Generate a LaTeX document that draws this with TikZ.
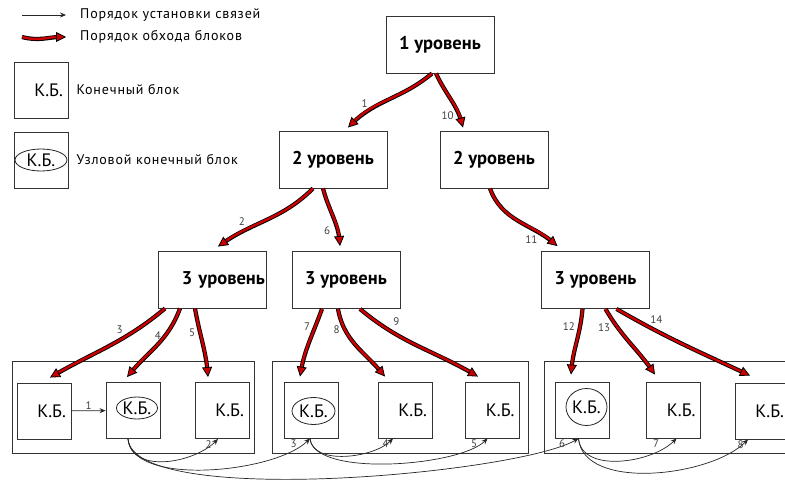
\documentclass[tikz,border=0pt]{standalone}
\usepackage{fontspec}
\setmainfont{PT Sans}
\newfontfamily\legendfont[LetterSpace=6]{PT Sans}
\usetikzlibrary{arrows.meta,positioning,shapes.geometric}

\definecolor{walkred}{RGB}{204,0,0}

\tikzset{
  lvlbox/.style={draw=black!80, line width=0.9pt, minimum width=108pt, minimum height=57pt,
    inner sep=0pt, font=\fontsize{18.5}{22}\selectfont\bfseries},
  kbbox/.style={draw=black!80, line width=0.9pt, minimum width=54pt, minimum height=56pt,
    text width=44pt, align=right, inner xsep=5pt, inner ysep=0pt, font=\fontsize{18}{21}\selectfont},
  hubbox/.style={draw=black!80, line width=0.9pt, minimum width=54pt, minimum height=56pt, inner sep=0pt},
  hubell/.style={draw=black!85, ellipse, line width=0.8pt, inner sep=-1pt, font=\fontsize{18}{21}\selectfont},
  groupbox/.style={draw=black!80, line width=0.9pt, inner sep=0pt},
  walk/.style={preaction={draw=black, line width=4.2pt, shorten >=6pt, arrows=-},
    draw=walkred, line width=2.4pt,
    -{Triangle[length=10pt,width=10pt,color=black,fill=walkred,line width=0.8pt]}},
  link/.style={draw=black!85, line width=0.7pt, -{Stealth[length=6pt,width=5pt,inset=2pt]}},
  num/.style={font=\fontsize{11}{13}\selectfont, text=black!75, inner sep=1pt},
  legend/.style={font=\legendfont\fontsize{14}{16}\selectfont, anchor=west, inner sep=0pt},
}

\begin{document}
\begin{tikzpicture}[x=1pt, y=1pt]
  \useasboundingbox (0,0) rectangle (785,-488);

  % legend
  \coordinate (la1) at (22,-15);
  \coordinate (la2) at (66,-15);
  \draw[link] (la1) -- (la2);
  \node[legend, right=14pt of la2] (lt1) {Порядок установки связей};
  \coordinate (lw1) at (22,-37);
  \coordinate (lw2) at (66,-37);
  \draw[walk] (lw1) to[out=-15, in=180] (lw2);
  \node[legend, right=14pt of lw2] (lt2) {Порядок обхода блоков};

  \node[kbbox] (lb1) at (41,-90) {К.Б.};
  \node[legend, right=8pt of lb1] (lt3) {Конечный блок};
  \node[hubbox] (lb2) at (41,-160) {};
  \node[hubell, minimum width=52pt, minimum height=22pt] (lb2e) at (41,-160) {К.Б.};
  \node[legend, right=8pt of lb2] (lt4) {Узловой конечный блок};

  % tree levels
  \node[lvlbox] (lv1) at (440,-44.5) {1 уровень};
  \node[lvlbox] (lv2a) at (333,-159.5) {2 уровень};
  \node[lvlbox] (lv2b) at (494,-159.5) {2 уровень};
  \node[lvlbox, text width=106pt, align=right] (lv3a) at (212,-279.5) {3 уровень};
  \node[lvlbox] (lv3b) at (346,-280) {3 уровень};
  \node[lvlbox] (lv3c) at (595.5,-280) {3 уровень};

  % groups of end blocks
  \node[groupbox, minimum width=242pt, minimum height=92pt] (g1) at (133,-407) {};
  \node[groupbox, minimum width=256pt, minimum height=92pt] (g2) at (400,-407) {};
  \node[groupbox, minimum width=290pt, minimum height=92pt] (g3) at (689,-407) {};

  \node[kbbox] (kb1) at (44,-411) {К.Б.};
  \node[hubbox] (kb2) at (133,-410.5) {};
  \node[hubell, minimum width=41pt, minimum height=22pt] (kb2e) at (137,-408) {К.Б.};
  \node[kbbox] (kb3) at (222,-410.5) {К.Б.};
  \node[hubbox] (kb4) at (311,-410) {};
  \node[hubell, minimum width=43pt, minimum height=27pt] (kb4e) at (313.5,-411) {К.Б.};
  \node[kbbox] (kb5) at (405,-410) {К.Б.};
  \node[kbbox] (kb6) at (492.5,-410) {К.Б.};
  \node[hubbox] (kb7) at (582.5,-410) {};
  \node[hubell, minimum width=41pt, minimum height=37pt] (kb7e) at (586.5,-407) {К.Б.};
  \node[kbbox] (kb8) at (673.5,-410) {К.Б.};
  \node[kbbox] (kb9) at (762,-411) {К.Б.};

  % traversal order
  \draw[walk] ([xshift=-8pt]lv1.south) to[out=-140, in=45]
    node[num, pos=0.6, left=11pt] (o1) {1} ([xshift=15pt, yshift=3pt]lv2a.north);
  \draw[walk] ([xshift=-4pt]lv1.south) to[out=-65, in=105]
    node[num, pos=0.8, left=3pt] (o10) {10} ([xshift=-31pt, yshift=3pt]lv2b.north);
  \draw[walk] ([xshift=-20pt]lv2a.south) to[out=-135, in=35]
    node[num, pos=0.7, above left=2pt] (o2) {2} ([xshift=6pt, yshift=4pt]lv3a.north);
  \draw[walk] ([xshift=-10pt]lv2a.south) to[out=-75, in=95]
    node[num, pos=0.75, left=5pt] (o6) {6} ([xshift=-6pt, yshift=5pt]lv3b.north);
  \draw[walk] ([xshift=-4pt]lv2b.south) to[out=-70, in=140]
    node[num, pos=0.9, left=10pt] (o11) {11} ([xshift=-38pt, yshift=5pt]lv3c.north);

  \draw[walk] ([xshift=-47pt]lv3a.south) to[out=-140, in=30]
    node[num, pos=0.35, above left=1pt] (o3) {3} ([xshift=6pt, yshift=5pt]kb1.north);
  \draw[walk] ([xshift=-32pt]lv3a.south) to[out=-110, in=50]
    node[num, pos=0.35, left=2pt] (o4) {4} ([xshift=-6pt, yshift=5pt]kb2.north);
  \draw[walk] ([xshift=-17pt]lv3a.south) to[out=-80, in=95]
    node[num, pos=0.35, left=3pt] (o5) {5} ([xshift=-14pt, yshift=5pt]kb3.north);
  \draw[walk] ([xshift=-24pt]lv3b.south) to[out=-110, in=80]
    node[num, pos=0.25, left=3pt] (o7) {7} ([xshift=-11pt, yshift=5pt]kb4.north);
  \draw[walk] ([xshift=-8pt]lv3b.south) to[out=-80, in=130]
    node[num, pos=0.25, left=3pt] (o8) {8} ([xshift=-20pt, yshift=5pt]kb5.north);
  \draw[walk] ([xshift=14pt]lv3b.south) to[out=-40, in=150]
    node[num, pos=0.25, above right=3pt] (o9) {9} ([xshift=-14.5pt, yshift=5pt]kb6.north);
  \draw[walk] ([xshift=-13pt]lv3c.south) to[out=-95, in=85]
    node[num, pos=0.25, left=3pt] (o12) {12} ([xshift=-11.5pt, yshift=7pt]kb7.north);
  \draw[walk] ([xshift=10pt]lv3c.south) to[out=-60, in=125]
    node[num, pos=0.25, left=5pt] (o13) {13} ([xshift=-18.5pt, yshift=7pt]kb8.north);
  \draw[walk] ([xshift=21pt]lv3c.south) to[out=-30, in=155]
    node[num, pos=0.22, above right=1pt] (o14) {14} ([xshift=-12pt, yshift=7pt]kb9.north);

  % order of links between end blocks
  \draw[link] (kb1) -- node[num, above] (c1) {1} (kb2);
  \draw[link] ([xshift=-5pt]kb2.south) to[out=-85, in=-135, looseness=1]
    node[num, at end, anchor=north east, xshift=-5pt] (c2) {2} ([xshift=-4pt]kb3.south);
  \draw[link] ([xshift=-5pt]kb2.south) to[out=-85, in=-135, looseness=0.68]
    node[num, at end, anchor=north east, xshift=-12pt] (c3) {3} ([xshift=-1pt]kb4.south);
  \draw[link] ([xshift=-5pt]kb2.south) to[out=-85, in=-150, looseness=0.4]
    node[num, at end, anchor=north east, xshift=-12pt] (c6) {6} ([xshift=-4pt]kb7.south);
  \draw[link] ([xshift=-1pt]kb4.south) to[out=-85, in=-135, looseness=0.85]
    node[num, at end, anchor=north east, xshift=-3pt] (c4) {4} ([xshift=-12pt]kb5.south);
  \draw[link] ([xshift=-1pt]kb4.south) to[out=-85, in=-135, looseness=0.57]
    node[num, at end, anchor=north east, xshift=-9pt] (c5) {5} ([xshift=-5pt]kb6.south);
  \draw[link] ([xshift=-4pt]kb7.south) to[out=-85, in=-135, looseness=0.92]
    node[num, at end, anchor=north east, xshift=-16pt] (c7) {7} ([xshift=3pt]kb8.south);
  \draw[link] ([xshift=-4pt]kb7.south) to[out=-85, in=-135, looseness=0.8]
    node[num, at end, anchor=north east, xshift=-3pt] (c8) {8} ([xshift=-14pt]kb9.south);
\end{tikzpicture}
\end{document}
